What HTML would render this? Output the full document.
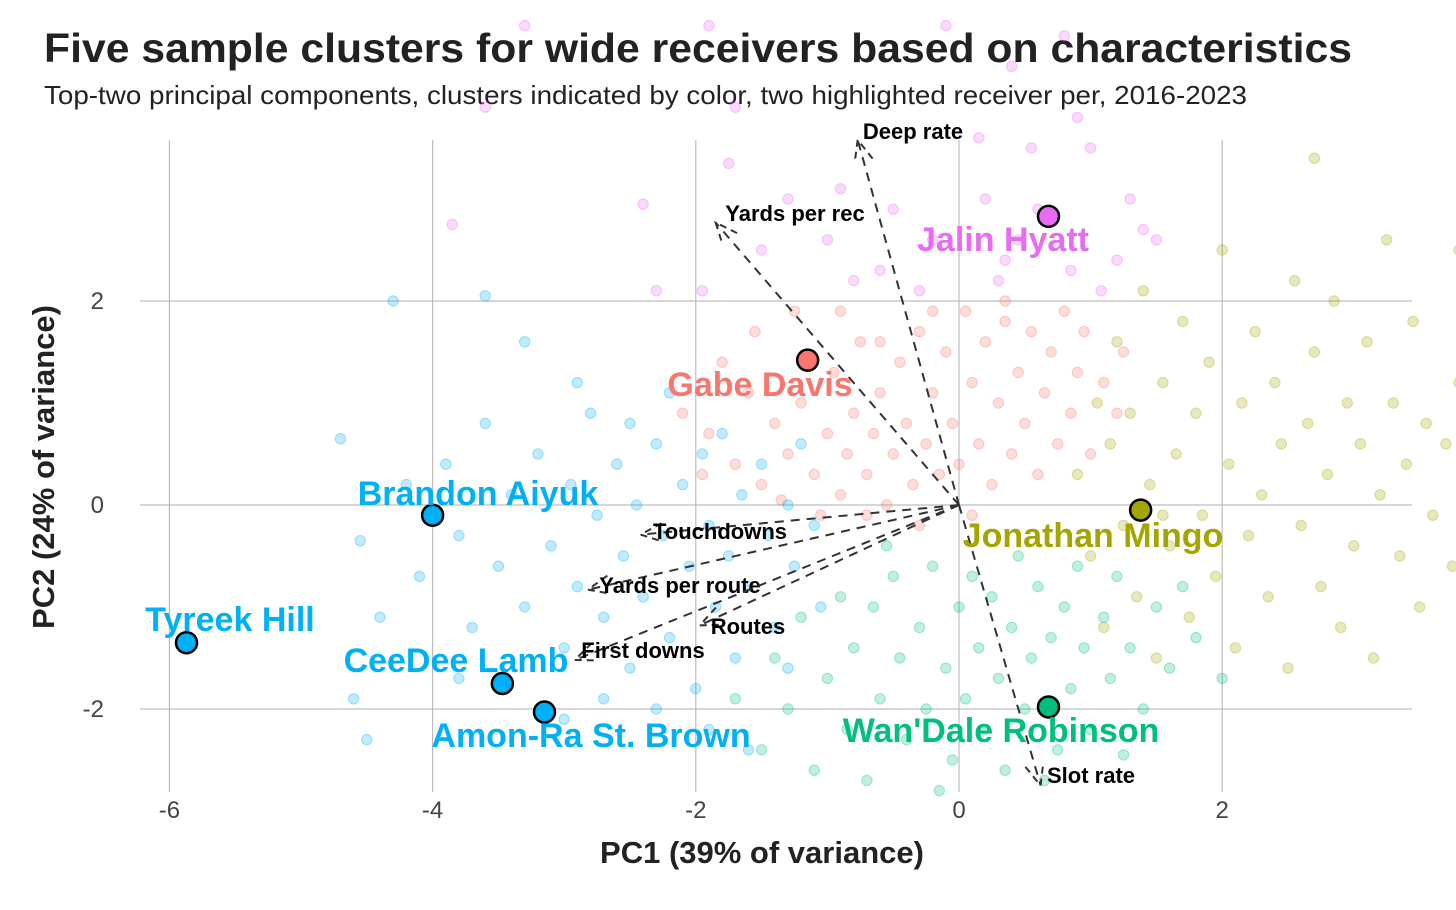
<!DOCTYPE html>
<html><head><meta charset="utf-8"><style>
html,body{margin:0;padding:0;background:#fff;}
svg{display:block;font-family:"Liberation Sans",sans-serif;}
</style></head><body>
<svg id="chart" width="1456" height="910" viewBox="0 0 1456 910" xmlns="http://www.w3.org/2000/svg">
<text x="44" y="62" font-size="41" font-weight="bold" fill="#222" textLength="1308" lengthAdjust="spacingAndGlyphs">Five sample clusters for wide receivers based on characteristics</text>
<text x="44" y="104" font-size="26" fill="#222" textLength="1203" lengthAdjust="spacingAndGlyphs">Top-two principal components, clusters indicated by color, two highlighted receiver per, 2016-2023</text>
<text x="762" y="863" font-size="31" font-weight="bold" fill="#222" text-anchor="middle">PC1 (39% of variance)</text>
<text transform="translate(54,467) rotate(-90)" font-size="31" font-weight="bold" fill="#222" text-anchor="middle">PC2 (24% of variance)</text>
<g id="grid"></g><g id="pts"></g><g id="arrows"></g><g id="hl"></g>
</svg>
<script>
const xTicks=[-6,-4,-2,0,2];
const yTicks=[-2,0,2];
const clusterColors=["#E76BF3","#F8766D","#00B0F6","#A3A500","#00BF7D"];
const pinkPts=[[-3.85,2.75],[-3.6,3.9],[-1.9,4.7],[-0.1,4.7],[0.8,4.6],[0.4,4.3],[-1.7,3.9],[-2.4,2.95],[-3.3,4.7],[-2.3,2.1],[-1.75,3.35],[-1.3,3.0],[-0.9,3.1],[-0.5,2.9],[-0.2,2.6],[0.2,3.0],[0.35,2.4],[0.55,3.5],[0.85,2.3],[1.0,3.5],[1.5,2.6],[1.3,3.0],[1.08,2.1],[0.3,2.2],[-0.6,2.3],[-1.0,2.6],[-1.95,2.1],[-1.5,2.5],[-0.3,2.1],[0.15,3.6],[0.6,2.9],[1.2,2.4],[0.9,3.8],[-0.8,2.2],[1.4,2.7],[0.45,2.6]];
const salmonPts=[[-1.9,0.7],[-1.7,0.4],[-1.6,1.1],[-1.5,0.2],[-1.4,0.8],[-1.3,0.5],[-1.2,1.0],[-1.1,0.3],[-1.0,0.7],[-0.95,1.3],[-0.9,0.1],[-0.85,0.5],[-0.8,0.9],[-0.75,1.6],[-0.7,0.3],[-0.65,0.7],[-0.6,1.1],[-0.55,0.0],[-0.5,0.5],[-0.45,1.4],[-0.4,0.8],[-0.35,0.2],[-0.3,1.7],[-0.25,0.6],[-0.2,1.1],[-0.15,0.3],[-0.1,1.5],[-0.05,0.8],[0.0,0.4],[0.05,1.9],[0.1,1.2],[0.15,0.6],[0.2,1.6],[0.25,0.2],[0.3,1.0],[0.35,1.8],[0.4,0.5],[0.45,1.3],[0.5,0.8],[0.55,1.7],[0.6,0.3],[0.65,1.1],[0.7,1.5],[0.75,0.6],[0.8,1.9],[0.85,0.9],[0.9,1.3],[1.0,0.5],[1.1,1.2],[1.2,0.9],[-1.8,1.4],[-1.55,1.7],[-1.25,1.9],[-0.9,1.9],[-0.6,1.6],[-1.35,0.05],[-1.05,-0.1],[-0.7,-0.1],[-0.3,-0.2],[0.1,-0.1],[-2.1,0.9],[-1.95,0.3],[1.25,1.5],[0.95,1.7],[0.35,2.0],[-0.2,1.9]];
const cyanPts=[[-4.7,0.65],[-4.55,-0.35],[-4.4,-1.1],[-4.3,2.0],[-3.6,2.05],[-4.2,0.2],[-4.1,-0.7],[-3.9,0.4],[-3.8,-0.3],[-3.7,-1.2],[-3.6,0.8],[-3.5,-0.6],[-3.4,0.1],[-3.3,-1.0],[-3.2,0.5],[-3.1,-0.4],[-3.0,-1.4],[-2.95,0.2],[-2.9,-0.8],[-2.8,0.9],[-2.75,-0.1],[-2.7,-1.1],[-2.6,0.4],[-2.55,-0.5],[-2.5,-1.6],[-2.45,0.0],[-2.4,-0.9],[-2.3,0.6],[-2.25,-0.3],[-2.2,-1.3],[-2.1,0.2],[-2.05,-0.6],[-2.0,-1.8],[-1.95,0.5],[-1.9,-0.2],[-1.85,-1.0],[-1.8,0.7],[-1.75,-0.5],[-1.7,-1.5],[-1.65,0.1],[-1.6,-0.8],[-1.5,0.4],[-1.45,-0.3],[-1.4,-1.2],[-1.3,0.0],[-1.25,-0.6],[-1.2,0.6],[-1.1,-0.2],[-1.05,-1.0],[-3.3,1.6],[-2.9,1.2],[-2.5,0.8],[-2.2,1.1],[-4.6,-1.9],[-4.5,-2.3],[-3.0,-2.1],[-2.3,-2.0],[-1.9,-2.2],[-1.6,-2.4],[-3.8,-1.7],[-2.7,-1.9],[-1.3,-1.6]];
const olivePts=[[0.9,0.3],[1.0,-0.5],[1.05,1.0],[1.1,-1.2],[1.15,0.6],[1.2,1.6],[1.25,-0.2],[1.3,0.9],[1.35,-0.9],[1.4,2.1],[1.45,0.2],[1.5,-1.5],[1.55,1.2],[1.6,-0.4],[1.65,0.5],[1.7,1.8],[1.75,-1.1],[1.8,0.9],[1.85,-0.1],[1.9,1.4],[1.95,-0.7],[2.0,2.5],[2.05,0.4],[2.1,-1.4],[2.15,1.0],[2.2,-0.3],[2.25,1.7],[2.3,0.1],[2.35,-0.9],[2.4,1.2],[2.45,0.6],[2.5,-1.6],[2.55,2.2],[2.6,-0.2],[2.65,0.8],[2.7,1.5],[2.75,-0.8],[2.8,0.3],[2.85,2.0],[2.9,-1.2],[2.95,1.0],[3.0,-0.4],[3.05,0.6],[3.1,1.6],[3.15,-1.5],[3.2,0.1],[3.25,2.6],[3.3,1.0],[3.35,-0.5],[3.4,0.4],[3.45,1.8],[3.5,-1.0],[3.55,0.8],[3.6,-0.1],[3.7,0.6],[3.75,-0.6],[3.8,1.2],[2.7,3.4],[3.8,2.5],[1.55,-0.1]];
const greenPts=[[-1.5,-2.4],[-1.4,-1.5],[-1.3,-2.0],[-1.2,-1.1],[-1.1,-2.6],[-1.0,-1.7],[-0.9,-0.9],[-0.85,-2.2],[-0.8,-1.4],[-0.7,-2.7],[-0.65,-1.0],[-0.6,-1.9],[-0.5,-0.7],[-0.45,-1.5],[-0.4,-2.3],[-0.3,-1.2],[-0.25,-2.0],[-0.2,-0.6],[-0.1,-1.6],[-0.05,-2.5],[0.0,-1.0],[0.05,-1.9],[0.1,-0.7],[0.15,-1.4],[0.2,-2.2],[0.25,-0.9],[0.3,-1.7],[0.35,-2.6],[0.4,-1.2],[0.45,-0.5],[0.5,-2.0],[0.55,-1.5],[0.6,-0.8],[0.7,-1.3],[0.75,-2.4],[0.8,-1.0],[0.85,-1.8],[0.9,-0.6],[0.95,-1.4],[1.0,-2.2],[1.1,-1.1],[1.15,-1.7],[1.2,-0.7],[1.3,-1.4],[1.4,-2.0],[1.5,-1.0],[1.6,-1.6],[1.7,-0.8],[1.8,-1.3],[2.0,-1.7],[-1.7,-1.9],[-0.15,-2.8],[0.65,-2.7],[1.25,-2.45],[-0.55,-0.4]];
const playerNames=["Jalin Hyatt","Gabe Davis","Brandon Aiyuk","Tyreek Hill","CeeDee Lamb","Amon-Ra St. Brown","Jonathan Mingo","Wan'Dale Robinson"];
const playerPC1=[0.68,-1.15,-4.0,-5.87,-3.47,-3.15,1.38,0.68];
const playerPC2=[2.83,1.42,-0.1,-1.35,-1.75,-2.03,-0.05,-1.98];
const playerCluster=[0,1,2,2,2,2,3,4];
const loadingNames=["Deep rate","Yards per rec","Touchdowns","Yards per route","Routes","First downs","Slot rate"];
const loadingX=[-0.77,-1.85,-2.42,-2.82,-1.97,-2.92,0.62];
const loadingY=[3.58,2.77,-0.29,-0.83,-1.18,-1.52,-2.75];
</script>
<script>
const NS="http://www.w3.org/2000/svg";
const X=v=>959+v*131.6;
const Y=v=>505-v*102;
function mk(tag,attrs,parent){const e=document.createElementNS(NS,tag);for(const k in attrs)e.setAttribute(k,attrs[k]);parent.appendChild(e);return e;}
const grid=document.getElementById('grid');
xTicks.forEach(t=>{
  const l=mk('line',{x1:X(t),x2:X(t),y1:140,y2:792,stroke:'#bdbdbd','stroke-width':1.2},grid);
  
  
  const tx=mk('text',{x:X(t),y:818,'font-size':24,fill:'#444','text-anchor':'middle'},grid);
  tx.textContent=String(t);
  
  
});
yTicks.forEach(t=>{
  const l=mk('line',{x1:140,x2:1412,y1:Y(t),y2:Y(t),stroke:'#bdbdbd','stroke-width':1.2},grid);
  
  
  const tx=mk('text',{x:104,y:Y(t)+8,'font-size':24,fill:'#444','text-anchor':'end'},grid);
  tx.textContent=String(t);
  
  
});
const pts=document.getElementById('pts');
[pinkPts,salmonPts,cyanPts,olivePts,greenPts].forEach((arr,ci)=>{
  arr.forEach(p=>{
    const c=mk('circle',{cx:X(p[0]),cy:Y(p[1]),r:5.2,fill:clusterColors[ci],'fill-opacity':0.25,stroke:clusterColors[ci],'stroke-opacity':0.35,'stroke-width':1},pts);
    
    
  });
});
const ar=document.getElementById('arrows');
const lblPos=[[913,139],[795,221],[720,539],[680,593],[748,634],[643,658],[1091,783]];
loadingNames.forEach((n,i)=>{
  const x2=X(loadingX[i]),y2=Y(loadingY[i]),x1=X(0),y1=Y(0);
  const l=mk('line',{x1:x1,y1:y1,x2:x2,y2:y2,stroke:'#333','stroke-width':2,'stroke-dasharray':'9,7'},ar);
  
  
  const a=Math.atan2(y2-y1,x2-x1),h=24,s=0.4;
  const p1=[x2-h*Math.cos(a-s),y2-h*Math.sin(a-s)],p2=[x2-h*Math.cos(a+s),y2-h*Math.sin(a+s)];
  const hd=mk('path',{d:`M${p1[0]},${p1[1]}L${x2},${y2}L${p2[0]},${p2[1]}`,fill:'none',stroke:'#333','stroke-width':2,'stroke-dasharray':'7,5'},ar);
  
  
  const t=mk('text',{x:lblPos[i][0],y:lblPos[i][1],'font-size':22,'font-weight':'bold',fill:'#000','text-anchor':'middle'},ar);
  t.textContent=n;
  
  
});
const hl=document.getElementById('hl');
playerNames.forEach((n,i)=>{
  const col=clusterColors[playerCluster[i]];
  const c=mk('circle',{cx:X(playerPC1[i]),cy:Y(playerPC2[i]),r:10.5,fill:col,stroke:'#000','stroke-width':2.5},hl);
  
  
});
const nameAt=[[1003,251],[760,396],[478,505],[230,631],[456,672],[591,747],[1093,547],[1001,742]];
playerNames.forEach((n,i)=>{
  const t=mk('text',{x:nameAt[i][0],y:nameAt[i][1],'font-size':34,'font-weight':'bold',fill:clusterColors[playerCluster[i]],'text-anchor':'middle'},hl);
  t.textContent=n;
  
  
});
</script>
</body></html>
